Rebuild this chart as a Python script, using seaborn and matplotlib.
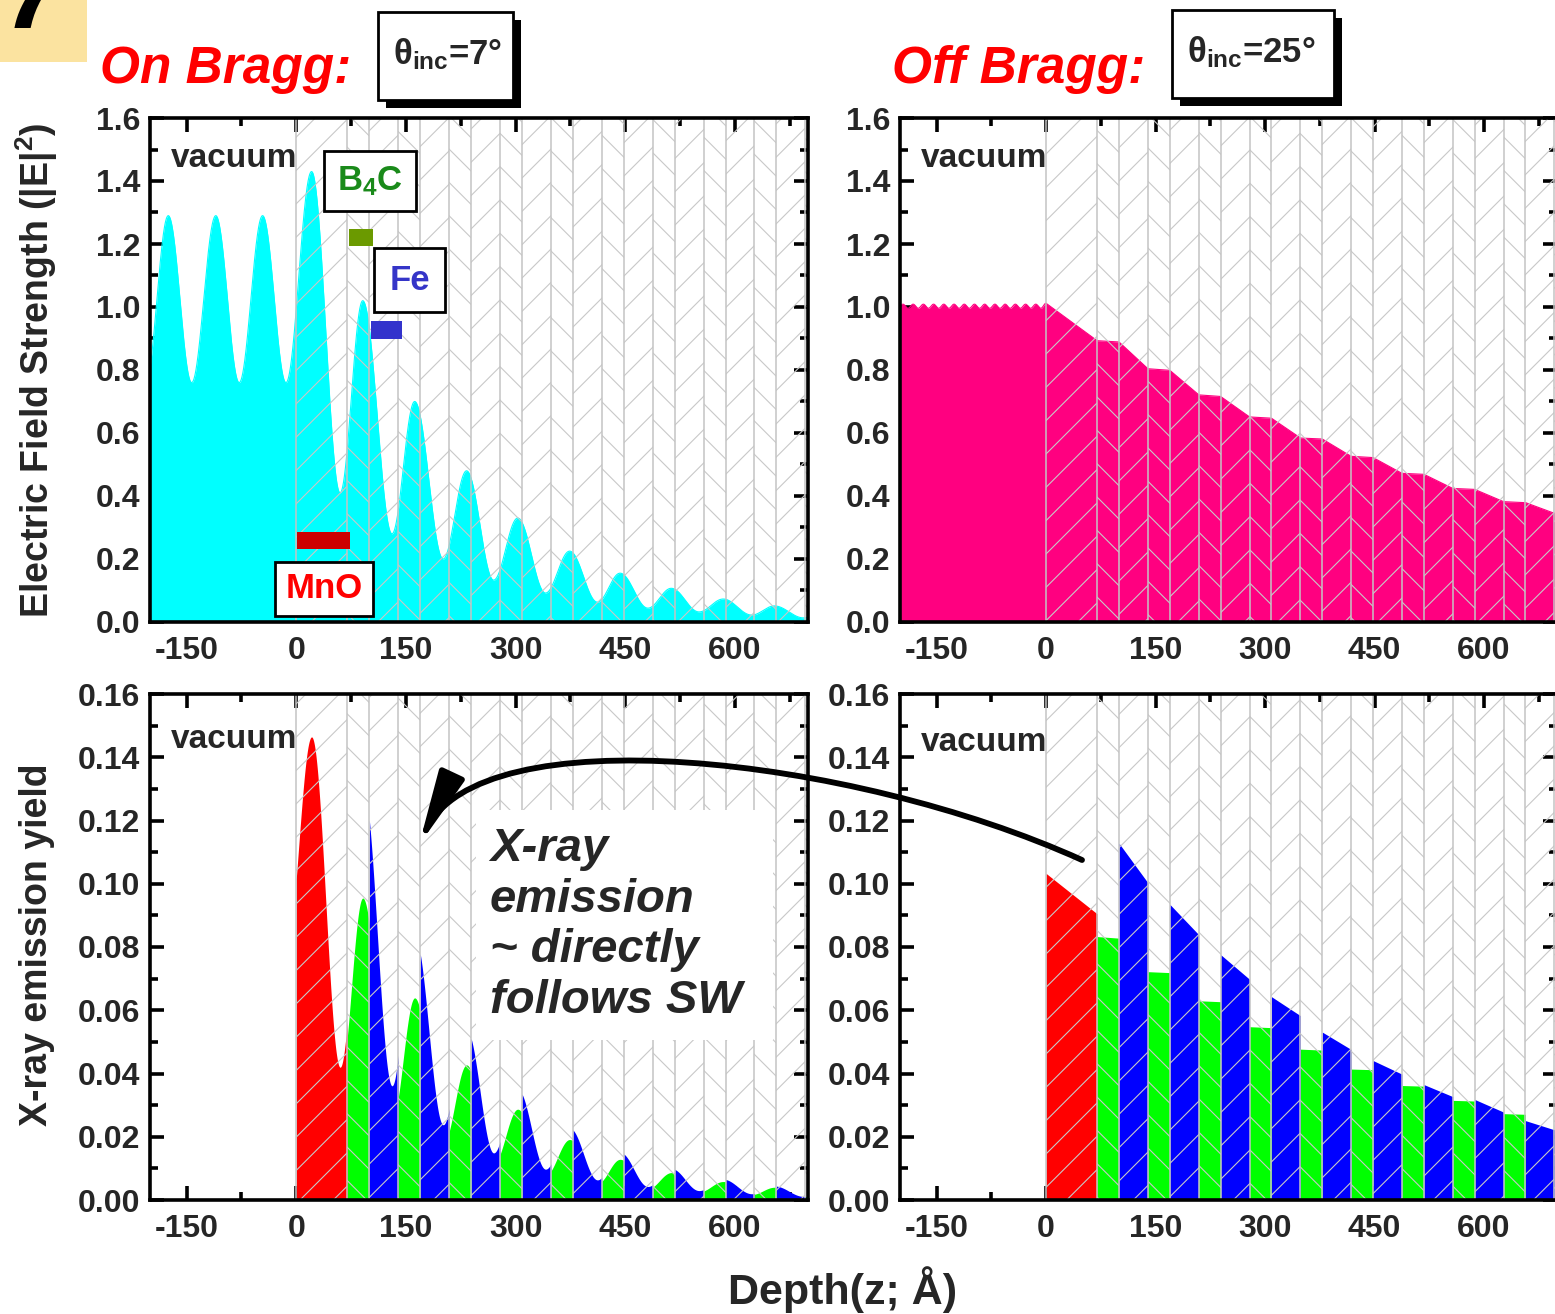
import numpy as np
import pandas as pd
import matplotlib
matplotlib.use("Agg")
import matplotlib.pyplot as plt
from matplotlib.patches import Rectangle, FancyArrowPatch
from matplotlib.path import Path
from matplotlib.ticker import MultipleLocator
import seaborn as sns

# ---------------- sample structure (Angstrom) ----------------
mno_thickness = 70.0
b4c_thickness = 30.0
fe_thickness = 39.6
n_bilayers = 10

# ---------------- On Bragg (7 deg): |E|^2 standing-wave extrema ----------------
onbragg_ext_depth = [-206, -175, -143, -110, -78, -46, -14, 21, 60, 91, 131, 162, 201, 233,
                     270, 303, 341, 374, 412, 443, 481, 513, 551, 584, 623, 654, 694, 724]
onbragg_ext_field = [0.76, 1.29, 0.76, 1.29, 0.76, 1.29, 0.76, 1.43, 0.41, 1.02, 0.28, 0.70,
                     0.20, 0.48, 0.133, 0.33, 0.092, 0.225, 0.063, 0.155, 0.044, 0.107,
                     0.032, 0.073, 0.022, 0.051, 0.013, 0.035]

# emission yield / |E|^2 in each layer (On Bragg)
onbragg_yield_mno = 0.1024
onbragg_yield_b4c = [0.0936, 0.0913, 0.089, 0.087, 0.085, 0.083, 0.081, 0.080, 0.079, 0.078]
onbragg_yield_fe = [0.129, 0.119, 0.112, 0.106, 0.101, 0.097, 0.093, 0.090, 0.087]

# ---------------- Off Bragg (25 deg) ----------------
offbragg_vac_depth = [-203, -196, -189, -182, -175, -168, -161, -154, -147, -140, -133, -126,
                      -119, -112, -105, -98, -91, -84, -77, -70, -63, -56, -49, -42, -35, -28,
                      -21, -14, -7, 0]
offbragg_vac_field = [0.996, 1.009, 0.996, 1.009, 0.996, 1.009, 0.996, 1.009, 0.996, 1.009,
                      0.996, 1.009, 0.996, 1.009, 0.996, 1.009, 0.996, 1.009, 0.996, 1.009,
                      0.996, 1.009, 0.996, 1.009, 0.996, 1.009, 0.996, 1.009, 0.996, 1.012]
# |E|^2 at every layer interface, from the surface down
offbragg_film_field = [1.012, 0.893, 0.889, 0.804, 0.799, 0.721, 0.716, 0.651, 0.647, 0.584,
                       0.581, 0.526, 0.522, 0.472, 0.469, 0.424, 0.421, 0.382, 0.379, 0.345,
                       0.343]
# emission yield at top / bottom of each layer (MnO, B4C, Fe, B4C, Fe, ...)
offbragg_yield_start = [0.1033, 0.0833, 0.1128, 0.0722, 0.0935, 0.0630, 0.0776, 0.0548,
                        0.0643, 0.0477, 0.0531, 0.0414, 0.0441, 0.0362, 0.0365, 0.0315,
                        0.0318, 0.0273, 0.0251, 0.0240]
offbragg_yield_end = [0.0905, 0.0828, 0.1003, 0.0719, 0.0839, 0.0627, 0.0698, 0.0545,
                      0.0583, 0.0474, 0.0476, 0.0412, 0.0398, 0.0360, 0.0327, 0.0313,
                      0.0278, 0.0271, 0.0222, 0.0239]

x_ticks = [-150, 0, 150, 300, 450, 600]

# ---------------- style ----------------
sns.set_theme(style="ticks")
plt.rcParams["font.family"] = ["Liberation Sans", "DejaVu Sans"]
plt.rcParams["font.weight"] = "bold"
plt.rcParams["axes.unicode_minus"] = False
plt.rcParams["mathtext.fontset"] = "custom"
plt.rcParams["mathtext.rm"] = "Liberation Sans:bold"
plt.rcParams["mathtext.bf"] = "Liberation Sans:bold"
plt.rcParams["mathtext.it"] = "Liberation Sans:bold:italic"
plt.rcParams["hatch.linewidth"] = 0.8

W, H = 1555, 1314
fig = plt.figure(figsize=(W / 100, H / 100), dpi=100)


def fx(px):
    return px / W


def fy(py):
    return 1 - py / H


def axes_px(left, top, right, bottom):
    return fig.add_axes([fx(left), fy(bottom), (right - left) / W, (bottom - top) / H])


ax_tl = axes_px(150, 118, 808, 622)
ax_tr = axes_px(900, 118, 1557, 622)
ax_bl = axes_px(150, 694, 808, 1200)
ax_br = axes_px(900, 694, 1557, 1200)

# layers
bounds = [0.0, mno_thickness]
kinds = ["MnO"]
for i in range(n_bilayers):
    bounds.append(bounds[-1] + b4c_thickness)
    kinds.append("B4C")
    bounds.append(bounds[-1] + fe_thickness)
    kinds.append("Fe")
layer_color = {"MnO": "#ff0000", "B4C": "#00ff00", "Fe": "#0000ff"}
layer_hatch = {"MnO": "/", "B4C": "\\", "Fe": "/"}
XMIN, XMAX = -200, 700


def through_extrema(xe, ye, x):
    xe = np.asarray(xe, float)
    ye = np.asarray(ye, float)
    i = np.clip(np.searchsorted(xe, x, side="right") - 1, 0, len(xe) - 2)
    t = (x - xe[i]) / (xe[i + 1] - xe[i])
    return ye[i] + (ye[i + 1] - ye[i]) * (1 - np.cos(np.pi * t)) / 2


def edge(ax, x, y, color):
    df = pd.DataFrame({"depth": x, "value": y})
    ax.fill_between(x, 0, y, color=color, lw=0, zorder=1)
    sns.lineplot(data=df, x="depth", y="value", ax=ax, color=color, lw=0.8,
                 sort=False, estimator=None, zorder=1.1)


def layer_overlay(ax):
    for k, a, b in zip(kinds, bounds[:-1], bounds[1:]):
        if a >= XMAX:
            break
        ax.axvspan(a, min(b, XMAX), facecolor="none", edgecolor="#c8c8c8",
                   hatch=layer_hatch[k], lw=0, zorder=2)
    for b in bounds:
        if b < XMAX:
            ax.axvline(b, color="#c4c4c4", lw=1.1, zorder=2.5)


def style_axes(ax, ymax, ystep, yminor, fmt):
    ax.set_xlim(XMIN, XMAX)
    ax.set_ylim(0, ymax)
    ax.set_xticks(x_ticks)
    ax.xaxis.set_minor_locator(MultipleLocator(75))
    ax.yaxis.set_major_locator(MultipleLocator(ystep))
    ax.yaxis.set_minor_locator(MultipleLocator(yminor))
    ax.yaxis.set_major_formatter(plt.FormatStrFormatter(fmt))
    ax.tick_params(which="both", direction="in", top=True, right=True,
                   labelsize=23, width=2.6, color="black")
    ax.tick_params(which="major", length=10)
    ax.tick_params(which="minor", length=6)
    ax.tick_params(axis="x", pad=10)
    ax.tick_params(axis="y", pad=7)
    for lab in ax.get_xticklabels() + ax.get_yticklabels():
        lab.set_fontweight("bold")
    for s in ax.spines.values():
        s.set_linewidth(2.6)
        s.set_color("black")
        s.set_zorder(5)
    ax.set_xlabel("")
    ax.set_ylabel("")


# ---------------- top left: on Bragg field ----------------
x = np.linspace(XMIN, XMAX, 3000)
edge(ax_tl, x, through_extrema(onbragg_ext_depth, onbragg_ext_field, x), "#00ffff")
layer_overlay(ax_tl)
style_axes(ax_tl, 1.6, 0.2, 0.1, "%.1f")

# ---------------- top right: off Bragg field ----------------
xv = np.linspace(XMIN, 0, 800)
xf = np.linspace(0, XMAX, 800)
x2 = np.concatenate([xv, xf])
y2 = np.concatenate([through_extrema(offbragg_vac_depth, offbragg_vac_field, xv),
                     np.interp(xf, bounds[:len(offbragg_film_field)], offbragg_film_field)])
edge(ax_tr, x2, y2, "#ff0080")
layer_overlay(ax_tr)
style_axes(ax_tr, 1.6, 0.2, 0.1, "%.1f")

# ---------------- bottom left: on Bragg yield ----------------
ib, ife = 0, 0
for k, a, b in zip(kinds, bounds[:-1], bounds[1:]):
    if a >= XMAX:
        break
    if k == "MnO":
        f = onbragg_yield_mno
    elif k == "B4C":
        f = onbragg_yield_b4c[ib]
        ib += 1
    else:
        f = onbragg_yield_fe[ife]
        ife += 1
    xs = np.linspace(a, min(b, XMAX), 250)
    ys = f * through_extrema(onbragg_ext_depth, onbragg_ext_field, xs)
    ax_bl.fill_between(xs, 0, ys, color=layer_color[k], lw=0, zorder=1)
layer_overlay(ax_bl)
style_axes(ax_bl, 0.16, 0.02, 0.01, "%.2f")

# ---------------- bottom right: off Bragg yield ----------------
for j, (k, a, b) in enumerate(zip(kinds, bounds[:-1], bounds[1:])):
    if a >= XMAX or j >= len(offbragg_yield_start):
        break
    xs = np.array([a, b])
    ys = np.array([offbragg_yield_start[j], offbragg_yield_end[j]])
    ax_br.fill_between(xs, 0, ys, color=layer_color[k], lw=0, zorder=1)
layer_overlay(ax_br)
style_axes(ax_br, 0.16, 0.02, 0.01, "%.2f")

# ---------------- panel texts ----------------
for ax, yv in [(ax_tl, 1.473), (ax_tr, 1.473), (ax_bl, 0.1455), (ax_br, 0.1448)]:
    ax.text(-172, yv, "vacuum", fontsize=24, fontweight="bold", va="center",
            ha="left", zorder=6)

# layer legend boxes in the top-left panel
ax_tl.text(101, 1.40, r"B$_{\mathrm{4}}$C", color="#1a8a1a", fontsize=25,
           fontweight="bold", ha="center", va="center", zorder=7,
           bbox=dict(boxstyle="square,pad=0.38", fc="white", ec="black", lw=2))
ax_tl.text(155, 1.085, "Fe", color="#3535c8", fontsize=25, fontweight="bold",
           ha="center", va="center", zorder=7,
           bbox=dict(boxstyle="square,pad=0.45", fc="white", ec="black", lw=2))
ax_tl.text(38, 0.106, "MnO", color="#ff0000", fontsize=25, fontweight="bold",
           ha="center", va="center", zorder=7,
           bbox=dict(boxstyle="square,pad=0.3", fc="white", ec="black", lw=2))
ax_tl.add_patch(Rectangle((72, 1.193), 33, 0.055, color="#6b9a00", zorder=7, lw=0))
ax_tl.add_patch(Rectangle((102, 0.899), 43, 0.058, color="#3333cc", zorder=7, lw=0))
ax_tl.add_patch(Rectangle((1, 0.233), 72, 0.054, color="#cc0000", zorder=7, lw=0))

# ---------------- figure-level labels ----------------
fig.patches.append(Rectangle((0, fy(62)), fx(87), 62 / H, transform=fig.transFigure,
                             color="#fbe3a0", zorder=0, lw=0))
fig.text(fx(4), fy(28), "7", fontsize=80, fontweight="bold", fontstyle="italic",
         va="baseline", ha="left", color="black")

fig.text(fx(100), fy(70), "On Bragg:", color="red", fontsize=37, fontweight="bold",
         fontstyle="italic", va="center", ha="left")
fig.text(fx(892), fy(70), "Off Bragg:", color="red", fontsize=37, fontweight="bold",
         fontstyle="italic", va="center", ha="left")


def theta_box(left, top, right, bottom, label):
    off = 8
    fig.patches.append(Rectangle((fx(left + off), fy(bottom + off)), (right - left) / W,
                                 (bottom - top) / H, transform=fig.transFigure,
                                 fc="black", ec="black", lw=0, zorder=3))
    fig.patches.append(Rectangle((fx(left), fy(bottom)), (right - left) / W,
                                 (bottom - top) / H, transform=fig.transFigure,
                                 fc="white", ec="black", lw=2, zorder=4))
    fig.text(fx(left + 15), fy((top + bottom) / 2 - 2), label, fontsize=25,
             fontweight="bold", va="center", ha="left", zorder=5)


theta_box(378, 12, 513, 100, r"θ$_{\mathrm{inc}}$=7°")
theta_box(1172, 10, 1334, 98, r"θ$_{\mathrm{inc}}$=25°")

fig.text(fx(37), fy(370), r"Electric Field Strength (|E|$^{\mathrm{2}}$)", rotation=90,
         fontsize=27, fontweight="bold", va="center", ha="center")
fig.text(fx(37), fy(945), "X-ray emission yield", rotation=90, fontsize=27,
         fontweight="bold", va="center", ha="center")
fig.text(fx(843), fy(1290), "Depth(z; Å)", fontsize=31, fontweight="bold",
         va="center", ha="center")

# annotation box
fig.patches.append(Rectangle((fx(476), fy(1040)), (773 - 476) / W, (1040 - 810) / H,
                             transform=fig.transFigure, fc="white", lw=0, zorder=3))
fig.text(fx(490), fy(925), "X-ray\nemission\n~ directly\nfollows SW", fontsize=34,
         fontweight="bold", fontstyle="italic", va="center", ha="left",
         linespacing=1.2, zorder=4)

# curved arrow linking the two yield panels
pts = [(1082, 860), (850, 755), (480, 715), (419, 845)]
arrow_path = Path([(fx(px), fy(py)) for px, py in pts],
                  [Path.MOVETO, Path.CURVE4, Path.CURVE4, Path.CURVE4])
arrow = FancyArrowPatch(path=arrow_path, transform=fig.transFigure,
                        arrowstyle="-|>,head_length=44,head_width=8",
                        mutation_scale=1, color="black", lw=4.2, zorder=6)
fig.patches.append(arrow)

fig.savefig("out.png", dpi=100)
